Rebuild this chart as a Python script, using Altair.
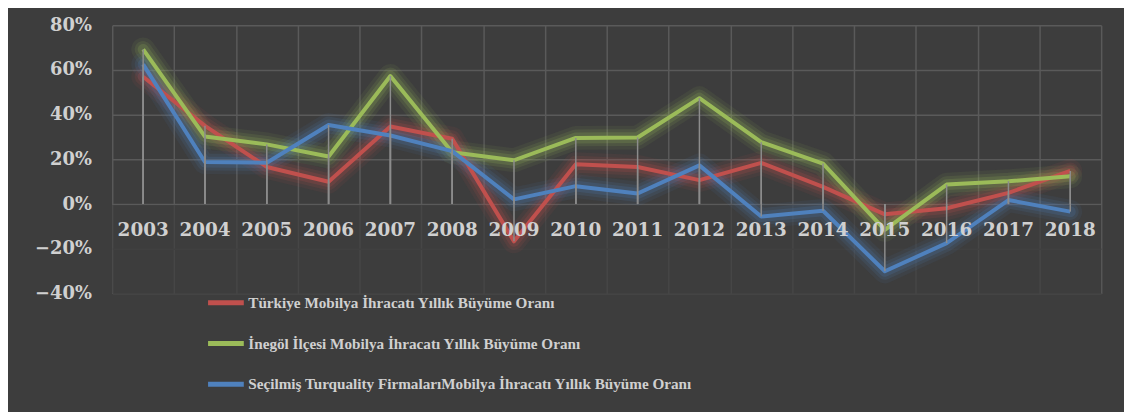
import altair as alt
import pandas as pd

years = list(range(2003, 2019))
series_names = [
    "Türkiye Mobilya İhracatı Yıllık Büyüme Oranı",
    "İnegöl İlçesi Mobilya İhracatı Yıllık Büyüme Oranı",
    "Seçilmiş Turquality FirmalarıMobilya İhracatı Yıllık Büyüme Oranı",
]
turkiye = [57, 35, 16.6, 10, 34.7, 29.2, -16.7, 17.8, 16.6, 10.7, 18.4, 7.7, -4.6, -1.9, 5, 14.8]
inegol = [69.2, 30.2, 26.7, 21.3, 57.3, 23.2, 19.6, 29.6, 29.8, 47.4, 27.7, 18.1, -11.6, 8.7, 10.2, 12.4]
turquality = [62.5, 18.8, 18.5, 35.4, 30.7, 23.7, 2.1, 8, 4.7, 17.3, -5.6, -3, -30.1, -17.5, 1.8, -3.4]
colors = ["#C0504D", "#9BBB59", "#4F81BD"]
y_ticks = [-0.4, -0.2, 0.0, 0.2, 0.4, 0.6, 0.8]
x_bounds = [y + 0.5 for y in range(2002, 2019)]

rows = []
for name, vals in zip(series_names, [turkiye, inegol, turquality]):
    for yr, v in zip(years, vals):
        rows.append({"year": yr, "series": name, "value": v / 100.0})
df = pd.DataFrame(rows)
df_years = pd.DataFrame({"year": years, "label": [str(y) for y in years]})

W, H = 996, 270
TEXT = "#D0D0D0"
BG = "#3D3D3D"

xscale = alt.Scale(domain=[2002.5, 2018.5], nice=False, zero=False)
yscale = alt.Scale(domain=[-0.4, 0.8], nice=False)
cscale = alt.Scale(domain=series_names, range=colors)

x_enc = alt.X("year:Q", scale=xscale,
              axis=alt.Axis(values=x_bounds, labels=False, ticks=False, domain=False,
                            grid=True, gridColor="#5A5A5A", gridWidth=1.5, title=None))
y_enc = alt.Y("value:Q", scale=yscale,
              axis=alt.Axis(values=y_ticks, format=".0%", ticks=False, domain=False,
                            grid=True, gridWidth=1.5,
                            gridColor={"condition": {"test": "datum.value < -0.001", "value": "#474747"},
                                       "value": "#5A5A5A"},
                            labelFont="DejaVu Serif", labelFontWeight="bold", labelFontSize=18,
                            labelColor=TEXT, labelPadding=21, title=None))

legend = alt.Legend(title=None, orient="none", legendX=94, legendY=259,
                    direction="vertical", symbolType="stroke",
                    symbolStrokeWidth=5, symbolSize=1296, symbolOpacity=1,
                    labelFont="Liberation Serif", labelFontWeight="bold",
                    labelFontSize=15.3, labelColor=TEXT, labelLimit=0,
                    labelOffset=2, rowPadding=10)
color_enc = alt.Color("series:N", scale=cscale, sort=series_names, legend=legend)

base = alt.Chart(df)

# fade area below zero (dims the gridlines there)
fade = alt.Chart(df_years).mark_rect(color=BG, opacity=0.7).encode(
    x=alt.value(0), x2=alt.value(W),
    y=alt.datum(-0.004, scale=yscale), y2=alt.value(H)
).transform_filter("datum.year == 2003")

glow_layers = []
for sw, op in [(24, 0.08), (17, 0.12), (11, 0.18)]:
    glow_layers.append(
        base.mark_line(strokeWidth=sw, opacity=op, strokeCap="round", strokeJoin="round").encode(
            x=x_enc, y=y_enc, color=color_enc, order=alt.Order("year:Q"),
        )
    )

lines = base.mark_line(strokeWidth=4, strokeJoin="round").encode(
    x=x_enc, y=y_enc, color=color_enc, order=alt.Order("year:Q"),
)

drops = base.mark_rule(color="#8C8C8C", strokeWidth=1.5).encode(
    x="year:Q", y="value:Q", y2=alt.datum(0)
)

xlabels = alt.Chart(df_years).mark_text(
    font="DejaVu Serif", fontWeight="bold", fontSize=18.5, color=TEXT, dy=26
).encode(x="year:Q", y=alt.datum(0), text="label:N")

chart = alt.layer(fade, *glow_layers, lines, drops, xlabels).properties(
    width=W, height=H,
    autosize=alt.AutoSizeParams(type="none"),
    padding={"left": 105, "top": 16, "right": 23, "bottom": 118},
    background=BG,
).configure_view(stroke=None)

chart.save("out.html", embed_options={"renderer": "svg", "actions": False})
